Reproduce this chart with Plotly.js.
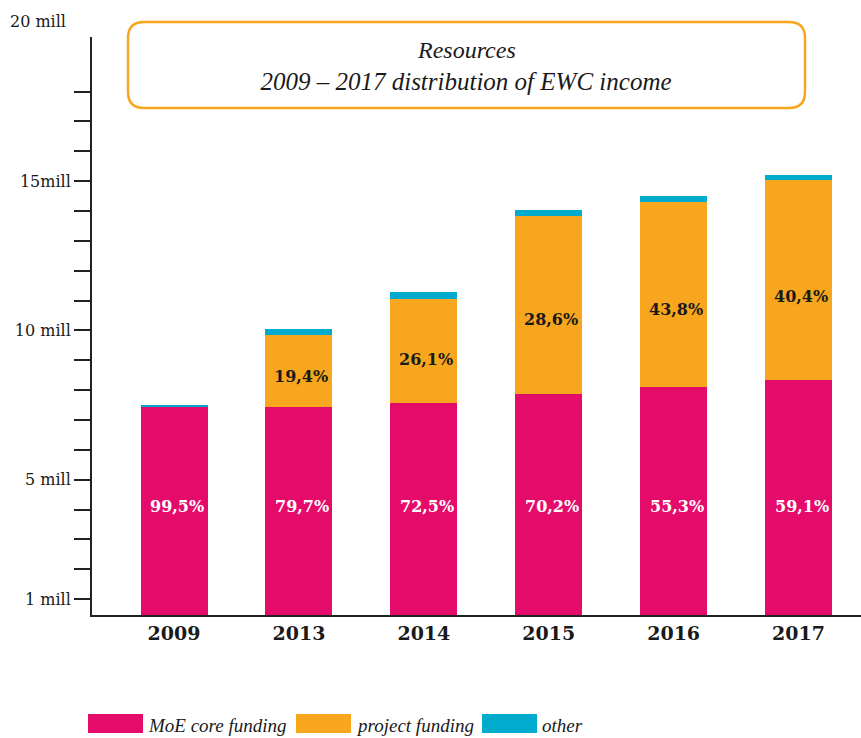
<!DOCTYPE html>
<html>
<head>
<meta charset="utf-8">
<script src="https://cdn.plot.ly/plotly-3.0.1.min.js"></script>
<style>html,body{margin:0;padding:0;background:#fff;}#chart{width:861px;height:738px;}</style>
</head>
<body>
<div id="chart"></div>
<script>
// ---- data (values in millions) ----
const years = ['2009', '2013', '2014', '2015', '2016', '2017'];
const coreFunding = [7.43, 7.43, 7.57, 7.87, 8.10, 8.34];
const projectFunding = [0, 2.42, 3.48, 5.96, 6.20, 6.70];
const otherIncome = [0.07, 0.20, 0.24, 0.20, 0.20, 0.16];
const corePctLabels = ['99,5%', '79,7%', '72,5%', '70,2%', '55,3%', '59,1%'];
const projectPctLabels = ['', '19,4%', '26,1%', '28,6%', '43,8%', '40,4%'];
const seriesNames = ['MoE core funding', 'project funding', 'other'];
const tickValues = [1, 2, 3, 4, 5, 6, 7, 8, 9, 10, 11, 12, 13, 14, 15, 16, 17, 18];
const tickLabelMap = {1: '1 mill', 5: '5 mill', 10: '10 mill', 15: '15mill'};
const topLabel = '20 mill';
const titleLines = ['Resources', '2009 – 2017 distribution of EWC income'];

// ---- style ----
const colors = ['#E50B6B', '#F8A61D', '#00ABCD'];
const serif = 'DejaVu Serif';
const italicSerif = 'Liberation Serif';
const ink = '#1a1a1a';
const W = 861, H = 738, ML = 92, MR = 0, MT = 37, MB = 123;
const PW = W - ML - MR, PH = H - MT - MB;
const px2x = p => (p - ML) / PW;
const py2y = p => (H - MB - p) / PH;

const seriesValues = [coreFunding, projectFunding, otherIncome];
const traces = seriesValues.map((vals, i) => ({
  type: 'bar', x: years, y: vals, name: seriesNames[i],
  marker: {color: colors[i], line: {width: 0}},
  hoverinfo: 'x+y+name'
}));

const annotations = [];
years.forEach((yr, i) => {
  annotations.push({
    x: i, y: 4.1, xref: 'x', yref: 'y', text: '<b>' + corePctLabels[i] + '</b>',
    showarrow: false, xshift: 3, font: {family: serif, size: 16, color: '#ffffff'}
  });
  if (projectPctLabels[i]) {
    annotations.push({
      x: i, y: coreFunding[i] + 0.42 * projectFunding[i], xref: 'x', yref: 'y',
      text: '<b>' + projectPctLabels[i] + '</b>', showarrow: false, xshift: 2,
      font: {family: serif, size: 16, color: ink}
    });
  }
});
annotations.push({
  x: px2x(68), y: py2y(22), xref: 'paper', yref: 'paper', xanchor: 'right', yanchor: 'middle',
  text: topLabel, showarrow: false, font: {family: serif, size: 16, color: ink}
});
// first title line
annotations.push({
  x: px2x(466), y: py2y(50), xref: 'paper', yref: 'paper', xanchor: 'center', yanchor: 'middle',
  text: '<i>' + titleLines[0] + '</i>', showarrow: false, font: {family: italicSerif, size: 24, color: ink}
});

// legend (custom, large swatches)
const legendSwatchX = [88, 296, 482];
const swW = 55, swTop = 714, swBot = 733;
const shapes = [];
seriesNames.forEach((nm, i) => {
  shapes.push({
    type: 'rect', xref: 'paper', yref: 'paper',
    x0: px2x(legendSwatchX[i]), x1: px2x(legendSwatchX[i] + swW),
    y0: py2y(swBot), y1: py2y(swTop), fillcolor: colors[i], line: {width: 0}
  });
  annotations.push({
    x: px2x(legendSwatchX[i] + swW + 3), y: py2y(725), xref: 'paper', yref: 'paper',
    xanchor: 'left', yanchor: 'middle', text: '<i>' + nm + '</i>', showarrow: false,
    font: {family: italicSerif, size: 19, color: ink}
  });
});

// rounded title box
const bx0 = px2x(128), bx1 = px2x(805), byT = py2y(22), byB = py2y(108);
const rx = 16 / PW, ry = 16 / PH;
shapes.push({
  type: 'path', xref: 'paper', yref: 'paper',
  path: `M ${bx0 + rx},${byT} L ${bx1 - rx},${byT} Q ${bx1},${byT} ${bx1},${byT - ry} ` +
        `L ${bx1},${byB + ry} Q ${bx1},${byB} ${bx1 - rx},${byB} L ${bx0 + rx},${byB} ` +
        `Q ${bx0},${byB} ${bx0},${byB + ry} L ${bx0},${byT - ry} Q ${bx0},${byT} ${bx0 + rx},${byT} Z`,
  line: {color: '#F8A61D', width: 2.5}, fillcolor: 'rgba(0,0,0,0)', layer: 'above'
});

const layout = {
  width: W, height: H,
  margin: {l: ML, r: MR, t: MT, b: MB, pad: 0},
  paper_bgcolor: '#ffffff', plot_bgcolor: '#ffffff',
  barmode: 'stack', bargap: 0.464, showlegend: false,
  title: {
    text: '<i>' + titleLines[1] + '</i>',
    font: {family: italicSerif, size: 25, color: ink},
    xref: 'paper', x: px2x(466), xanchor: 'center',
    yref: 'container', y: 1 - 81 / H, yanchor: 'middle'
  },
  xaxis: {
    type: 'category', range: [-0.657, 5.5], showline: true, linecolor: '#222', linewidth: 2,
    ticks: '', showgrid: false, zeroline: false, fixedrange: true,
    tickfont: {family: serif, size: 19, color: ink},
    tickprefix: '<b>', ticksuffix: '</b>'
  },
  yaxis: {
    range: [0.469, 19.83], showline: true, linecolor: '#222', linewidth: 2,
    ticks: 'outside', ticklen: 16, tickwidth: 2, tickcolor: '#222',
    tickvals: tickValues, ticktext: tickValues.map(v => tickLabelMap[v] || ''),
    showgrid: false, zeroline: false, fixedrange: true,
    tickfont: {family: serif, size: 16, color: ink}
  },
  annotations: annotations,
  shapes: shapes
};

Plotly.newPlot('chart', traces, layout, {displayModeBar: false, staticPlot: true});
</script>
</body>
</html>
